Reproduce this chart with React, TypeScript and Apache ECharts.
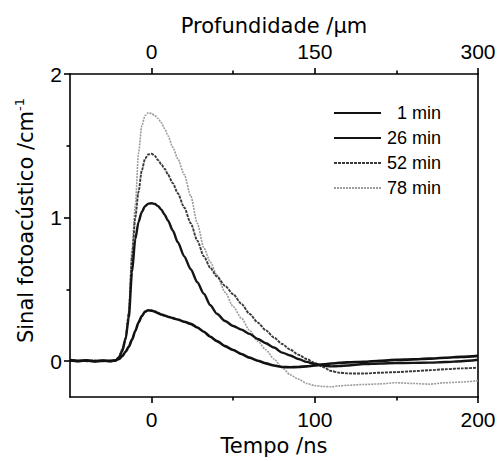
import React, { useEffect, useRef } from "react";
import * as echarts from "echarts";

// Time axis (ns)
const timeNs = [
  -50, -45, -40, -35, -30, -25, -22,
  -20, -18, -16, -14, -12, -10, -8, -6, -4, -2, 0, 2, 4, 6, 8, 10,
  13, 16,
  20, 24, 28, 32, 36, 40,
  45, 50, 55, 60, 65, 70, 75, 80, 85, 90, 95, 100, 105, 110, 115, 120,
  130, 140, 150, 160, 170, 180, 190, 200,
];

const signal1min = [
  0.008, 0.002, 0.006, 0.0, 0.004, 0.002, 0.006,
  0.015, 0.035, 0.065, 0.1, 0.15, 0.21, 0.27, 0.315, 0.345, 0.355, 0.352, 0.345, 0.335, 0.325, 0.318, 0.31,
  0.3, 0.29,
  0.275, 0.26, 0.235, 0.205, 0.17, 0.14,
  0.105, 0.078, 0.05, 0.025, 0.003, -0.015, -0.03, -0.04, -0.042, -0.04, -0.036, -0.03, -0.022, -0.016, -0.012, -0.008,
  -0.004, 0.003, 0.009, 0.013, 0.018, 0.024, 0.03, 0.037,
];

const signal26min = [
  0.005, 0.0, 0.004, -0.002, 0.003, 0.0, 0.004,
  0.025, 0.07, 0.15, 0.3, 0.62, 0.85, 0.97, 1.04, 1.08, 1.097, 1.1, 1.095, 1.08, 1.055, 1.02, 0.98,
  0.91, 0.83,
  0.73, 0.64, 0.55, 0.47, 0.39, 0.33,
  0.28, 0.245, 0.22, 0.19, 0.155, 0.125, 0.095, 0.06, 0.04, 0.015, -0.005, -0.02, -0.03, -0.036, -0.034, -0.03,
  -0.02, -0.016, -0.013, -0.012, -0.01, -0.006, 0.0, 0.01,
];

const signal52min = [
  0.01, 0.004, 0.0, 0.005, 0.0, 0.003, 0.005,
  0.03, 0.08, 0.16, 0.33, 0.72, 1.0, 1.18, 1.33, 1.41, 1.44, 1.445, 1.43, 1.4, 1.37, 1.34, 1.3,
  1.24, 1.17,
  1.07, 0.96, 0.84, 0.73, 0.65, 0.59,
  0.525, 0.466, 0.4, 0.33, 0.27, 0.215, 0.165, 0.12, 0.08, 0.045, 0.015, -0.012, -0.04, -0.068, -0.08, -0.085,
  -0.086, -0.08, -0.076, -0.07, -0.063, -0.056, -0.05, -0.045,
];

const signal78min = [
  0.006, 0.0, 0.005, 0.002, -0.002, 0.004, 0.006,
  0.035, 0.09, 0.17, 0.35, 0.78, 1.08, 1.45, 1.64, 1.71, 1.73, 1.725, 1.71, 1.69, 1.66, 1.62, 1.57,
  1.49, 1.41,
  1.3, 1.15, 0.96, 0.79, 0.69, 0.6,
  0.48, 0.38, 0.3, 0.215, 0.14, 0.08, 0.015, -0.045, -0.095, -0.125, -0.155, -0.17, -0.176, -0.178, -0.172, -0.168,
  -0.162, -0.158, -0.15, -0.155, -0.16, -0.15, -0.145, -0.135,
];

const seriesNames = ["1 min", "26 min", "52 min", "78 min"];
const seriesValues = [signal1min, signal26min, signal52min, signal78min];

const timeTicks = [0, 100, 200];
const timeMinorTicks = [50, 150];
const depthTicks = [0, 150, 300];
const depthMinorTicks = [75, 225];
const signalTicks = [0, 1, 2];
const signalMinorTicks = [0.5, 1.5];

const TICK_FONT = "'Liberation Sans', Arial, sans-serif";
const TITLE_FONT = "'DejaVu Sans', sans-serif";

const lineStyles = [
  { color: "#111111", width: 2.6, type: "solid" },
  { color: "#151515", width: 2.4, type: "solid" },
  { color: "#3a3a3a", width: 1.9, type: [3, 1] },
  { color: "#9c9c9c", width: 1.6, type: [2, 1] },
];

const axisLineStyle = { color: "#000", width: 1.6 };

export default function App() {
  const ref = useRef<HTMLDivElement>(null);

  useEffect(() => {
    if (!ref.current) return;
    const chart = echarts.init(ref.current, null, { renderer: "svg" });

    const option: any = {
      animation: false,
      backgroundColor: "#fff",
      grid: { left: 70, right: 22, top: 74, bottom: 60, containLabel: false },
      legend: {
        orient: "vertical",
        left: 328,
        top: 99,
        itemWidth: 47,
        itemHeight: 14,
        itemGap: 7,
        data: seriesNames,
        itemStyle: { opacity: 0 },
        formatter: (name: string) => `{t|${name}}`,
        textStyle: {
          color: "#000",
          fontSize: 18,
          fontFamily: TICK_FONT,
          rich: {
            t: {
              width: 55,
              align: "right",
              fontSize: 18,
              lineHeight: 14,
              fontFamily: TICK_FONT,
              color: "#000",
            },
          },
        },
      },
      xAxis: [
        {
          type: "value",
          position: "bottom",
          min: -50,
          max: 200,
          axisLine: { show: true, onZero: false, lineStyle: axisLineStyle },
          axisTick: { show: true, customValues: timeTicks, length: 6, lineStyle: axisLineStyle },
          axisLabel: {
            customValues: timeTicks,
            fontSize: 21,
            color: "#000",
            fontFamily: TICK_FONT,
            margin: 12,
          },
          splitLine: { show: false },
          name: "Tempo /ns",
          nameLocation: "middle",
          nameGap: 35,
          nameTextStyle: { fontSize: 21, color: "#000", fontFamily: TITLE_FONT },
        },
        {
          type: "value",
          position: "bottom",
          min: -50,
          max: 200,
          axisLine: { show: false, onZero: false },
          axisTick: { show: true, customValues: timeMinorTicks, length: 3.5, lineStyle: axisLineStyle },
          axisLabel: { show: false },
          splitLine: { show: false },
        },
        {
          type: "value",
          position: "top",
          min: -75,
          max: 300,
          axisLine: { show: true, onZero: false, lineStyle: axisLineStyle },
          axisTick: { show: true, customValues: depthTicks, length: 6, lineStyle: axisLineStyle },
          axisLabel: {
            customValues: depthTicks,
            fontSize: 21,
            color: "#000",
            fontFamily: TICK_FONT,
            margin: 12,
          },
          splitLine: { show: false },
          name: "Profundidade /\u00b5m",
          nameLocation: "middle",
          nameGap: 37,
          nameTextStyle: { fontSize: 21, color: "#000", fontFamily: TITLE_FONT },
        },
        {
          type: "value",
          position: "top",
          min: -75,
          max: 300,
          axisLine: { show: false, onZero: false },
          axisTick: { show: true, customValues: depthMinorTicks, length: 3.5, lineStyle: axisLineStyle },
          axisLabel: { show: false },
          splitLine: { show: false },
        },
      ],
      yAxis: [
        {
          type: "value",
          position: "left",
          min: -0.25,
          max: 2,
          axisLine: { show: true, onZero: false, lineStyle: axisLineStyle },
          axisTick: { show: true, customValues: signalTicks, length: 6, lineStyle: axisLineStyle },
          axisLabel: {
            customValues: signalTicks,
            fontSize: 21,
            color: "#000",
            fontFamily: TICK_FONT,
            margin: 8,
          },
          splitLine: { show: false },
          name: "{a|Sinal fotoac\u00fastico /cm}{b|-1}",
          nameLocation: "middle",
          nameGap: 31,
          nameTextStyle: {
            fontSize: 21,
            color: "#000",
            fontFamily: TITLE_FONT,
            padding: [0, 0, 0, 30],
            rich: {
              a: { fontSize: 21, fontFamily: TITLE_FONT, color: "#000", lineHeight: 26 },
              b: { fontSize: 13, fontFamily: TITLE_FONT, color: "#000", verticalAlign: "top", lineHeight: 14 },
            },
          },
        },
        {
          type: "value",
          position: "left",
          min: -0.25,
          max: 2,
          axisLine: { show: false, onZero: false },
          axisTick: { show: true, customValues: signalMinorTicks, length: 3.5, lineStyle: axisLineStyle },
          axisLabel: { show: false },
          splitLine: { show: false },
        },
        {
          type: "value",
          position: "right",
          min: -0.25,
          max: 2,
          axisLine: { show: true, onZero: false, lineStyle: axisLineStyle },
          axisTick: { show: false },
          axisLabel: { show: false },
          splitLine: { show: false },
        },
      ],
      series: seriesNames.map((name, i) => ({
        name,
        type: "line",
        xAxisIndex: 0,
        yAxisIndex: 0,
        data: timeNs.map((t, j) => [t, seriesValues[i][j]]),
        symbol: "none",
        smooth: 0.25,
        smoothMonotone: "x",
        color: lineStyles[i].color,
        lineStyle: lineStyles[i],
        z: 10 - i,
      })),
    };

    chart.setOption(option);
    return () => chart.dispose();
  }, []);

  return (
    <div
      ref={ref}
      style={{ position: "absolute", left: 0, top: 0, width: 500, height: 461 }}
    />
  );
}
